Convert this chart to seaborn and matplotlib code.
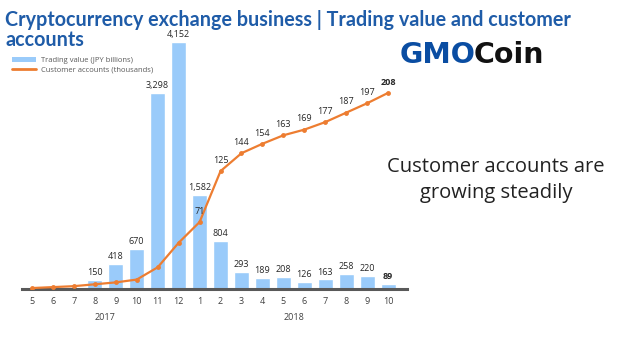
import matplotlib
matplotlib.use("Agg")
import matplotlib.pyplot as plt
import seaborn as sns
import pandas as pd
from matplotlib.patches import Patch
from matplotlib.lines import Line2D

months = ["5", "6", "7", "8", "9", "10", "11", "12", "1", "2", "3", "4", "5", "6", "7", "8", "9", "10"]
trading_value = [0, 0, 0, 150, 418, 670, 3298, 4152, 1582, 804, 293, 189, 208, 126, 163, 258, 220, 89]
customer_accounts = [1, 2, 3, 5, 7, 10, 23, 49, 71, 125, 144, 154, 163, 169, 177, 187, 197, 208]
labeled_accounts = [False] * 8 + [True] * 10
labeled_values = [False] * 3 + [True] * 15

sns.set_theme(style="white")
plt.rcParams["font.family"] = ["Open Sans", "DejaVu Sans"]

df = pd.DataFrame({"pos": list(range(len(months))), "month": months,
                   "value": trading_value, "accounts": customer_accounts})

fig = plt.figure(figsize=(6.4, 3.44), dpi=100)
W, H = 640, 344
left, right_px = 21.5, 407
top_px, base_px = 29, 289
ax = fig.add_axes([left / W, (H - base_px) / H, (right_px - left) / W, (base_px - top_px) / H])

bar_color = "#9ACBFA"
line_color = "#ED7D31"
sns.barplot(data=df, x="pos", y="value", color=bar_color, width=0.72, ax=ax,
            saturation=1, native_scale=True)
ax.set_ylim(0, 4152 * (base_px - top_px) / 247)

ax2 = ax.twinx()
sns.lineplot(data=df, x="pos", y="accounts", color=line_color, lw=1.6, marker="o",
             markersize=3.5, markeredgewidth=0, ax=ax2)
ax2.set_ylim(0, (base_px - top_px) / 0.943)

for a in (ax, ax2):
    for s in a.spines.values():
        s.set_visible(False)
    a.set_yticks([])
    a.set_ylabel("")
    a.grid(False)
ax.set_xlabel("")
ax2.set_xlabel("")
ax.spines["bottom"].set_visible(True)
ax.spines["bottom"].set_color("#595959")
ax.spines["bottom"].set_linewidth(2.2)
ax.set_xticks(range(len(months)))
ax.set_xticklabels(months, fontsize=6.5, color="#404040")
ax.tick_params(axis="x", length=0, pad=6, labelbottom=True)
ax.set_xlim(-0.5, 17.9)

for i, (v, show) in enumerate(zip(trading_value, labeled_values)):
    if show:
        ax.annotate(f"{v:,}", (i, v), xytext=(0, 2), textcoords="offset points",
                    ha="center", va="bottom", fontsize=6.5, color="#262626",
                    fontweight="bold" if i == len(months) - 1 else "normal")
for i, (v, show) in enumerate(zip(customer_accounts, labeled_accounts)):
    if show:
        ax2.annotate(f"{v:,}", (i, v), xytext=(0, 4.5), textcoords="offset points",
                     ha="center", va="bottom", fontsize=6.5, color="#262626",
                     fontweight="bold" if i == len(months) - 1 else "normal")

fig.text(105 / W, 1 - 317 / H, "2017", ha="center", va="center", fontsize=6.5, color="#404040")
fig.text(294 / W, 1 - 317 / H, "2018", ha="center", va="center", fontsize=6.5, color="#404040")

fig.text(5 / W, 1 - 20 / H, "Cryptocurrency exchange business | Trading value and customer",
         ha="left", va="center", fontsize=14.2, fontweight="bold", color="#1F5CA8",
         family=["Lato", "DejaVu Sans"])
fig.text(5 / W, 1 - 40 / H, "accounts",
         ha="left", va="center", fontsize=14.2, fontweight="bold", color="#1F5CA8",
         family=["Lato", "DejaVu Sans"])

handles = [Patch(facecolor=bar_color, edgecolor="none"),
           Line2D([0], [0], color=line_color, lw=2)]
fig.legend(handles, ["Trading value (JPY billions)", "Customer accounts (thousands)"],
           loc="upper left", bbox_to_anchor=(12 / W, 1 - 57 / H), frameon=False,
           fontsize=5.5, labelcolor="#595959", handlelength=3.2, handleheight=0.6,
           handletextpad=0.6, labelspacing=0.35, borderaxespad=0, borderpad=0)

fig.text(400 / W, 1 - 55 / H, "GMO", ha="left", va="center", fontsize=20.5,
         fontweight="heavy", color="#0A4DA2", family=["DejaVu Sans"])
fig.text(474 / W, 1 - 55 / H, "Coin", ha="left", va="center", fontsize=20.5,
         fontweight="bold", color="#111111", family=["DejaVu Sans"])

fig.text(496 / W, 1 - 167 / H, "Customer accounts are", ha="center", va="center",
         fontsize=14.5, color="#222222")
fig.text(496 / W, 1 - 193 / H, "growing steadily", ha="center", va="center",
         fontsize=14.5, color="#222222")

fig.savefig("out.png", dpi=100, facecolor="white")
